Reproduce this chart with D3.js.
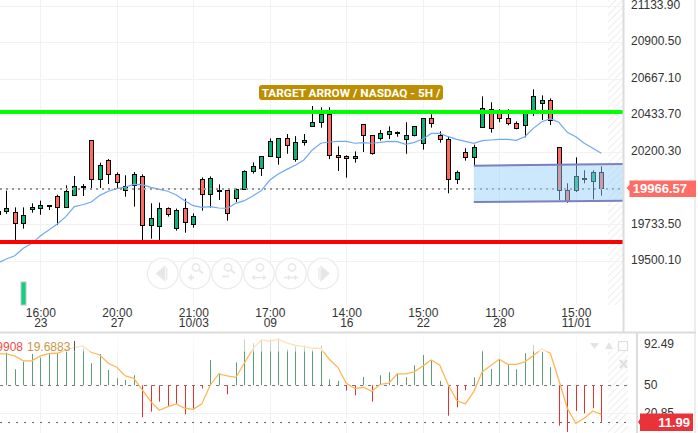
<!DOCTYPE html>
<meta charset="utf-8">
<title>NASDAQ 5H</title>
<style>
body { margin: 0; background: white; overflow: hidden; }
svg { display: block; font-family: 'Liberation Sans', Arial, sans-serif; }
.axis { font-family: 'Liberation Sans', Arial, sans-serif; }
.axis text { font-size: 12px; fill: #333; }
.axis path, .axis line { display: none; }
</style>
<svg width="698" height="433"></svg>
<script src="https://d3js.org/d3.v7.min.js"></script>
<script>
var opens = [19820,19816,19811,19741,19835,19837,19856,19914,19843,19920,19969,20272,20022,20144,20054,19958,19984,20041,19728,19722,19837,19709,19837,19735,20022,19926,19950,19954,19899,19958,20071,20093,20169,20163,20284,20148,20259,20361,20387,20438,20176,20169,20157,20374,20304,20284,20310,20321,20278,20304,20253,20412,20304,20278,20022,20195,20163,20355,20470,20444,20412,20380,20368,20457,20508,20528,20227,19952,19952,20024,20009,20067];
var highs = [19830,19950,19843,19843,19869,19886,19856,19924,19984,20044,19992,20272,20129,20152,20067,20048,20069,20054,19869,19873,19843,19835,19899,19805,20035,20041,19990,19954,19963,20080,20131,20169,20284,20284,20312,20299,20312,20491,20483,20483,20233,20176,20201,20374,20304,20338,20361,20329,20387,20361,20412,20438,20329,20295,20078,20221,20244,20553,20515,20470,20470,20393,20449,20598,20559,20540,20227,19997,20163,20080,20080,20105];
var lows = [19784,19801,19634,19707,19809,19796,19826,19730,19843,19920,19916,19958,19967,19992,19963,19911,19848,19634,19643,19634,19784,19694,19681,19713,19822,19841,19890,19758,19877,19958,20059,20044,20167,20116,20186,20135,20238,20359,20353,20152,20076,20033,20129,20197,20180,20270,20280,20295,20186,20297,20212,20353,20257,19933,19992,20142,20108,20355,20321,20387,20368,20342,20291,20427,20402,20370,19890,19873,19941,19997,19894,19918];
var closes = [19798,19837,19741,19792,19845,19856,19848,19843,19946,19978,19978,20022,20112,20054,20003,19982,20054,19728,19773,19837,19798,19824,19747,19786,19926,20029,19956,19805,19958,20073,20105,20169,20265,20284,20240,20259,20272,20387,20438,20176,20163,20157,20169,20304,20189,20316,20329,20325,20304,20361,20412,20380,20278,20022,20067,20163,20227,20476,20348,20412,20380,20348,20444,20553,20528,20400,19952,19882,20041,20031,20067,19966.57];
var movingAvg = [19487,19513,19534,19581,19613,19660,19698,19737,19784,19848,19860,19877,19920,19946,19963,19973,19990,19988,19971,19958,19946,19922,19886,19854,19843,19848,19839,19837,19869,19886,19916,19950,20018,20056,20086,20112,20146,20210,20253,20261,20265,20265,20253,20257,20253,20259,20265,20263,20246,20259,20280,20316,20316,20295,20278,20265,20253,20270,20274,20278,20278,20272,20295,20348,20391,20410,20387,20323,20295,20253,20221,20189];
var oscBars = [82.6,84.0,66.6,74.6,82.6,78.8,82.6,82.6,85.0,96.1,88.5,72.9,82.6,65.9,57.3,55.5,60.4,16.7,22.6,33.0,28.5,30.6,19.8,25.0,46.5,76.3,62.5,40.6,73.9,97.8,93.7,97.1,97.8,98.9,87.4,90.2,91.3,86.8,91.3,56.2,54.5,44.5,39.6,58.7,33.0,60.4,63.5,62.5,58.3,70.8,81.5,75.7,54.5,18.4,27.1,44.8,58.3,86.1,67.0,77.0,71.5,66.6,83.3,92.0,85.0,68.7,8.0,1.5,23.3,20.9,26.1,11.99];
var oscLine = [82.6,82.6,80.5,75.3,75.3,80.5,82.9,83.3,86.8,89.5,90.9,84.3,81.5,72.9,68.7,59.7,57.3,45.1,33.0,24.0,27.8,30.6,26.1,25.0,30.6,50.3,61.8,59.7,58.3,72.9,87.8,97.1,95.8,97.8,93.7,91.6,90.2,88.5,88.5,77.0,68.7,52.1,46.5,47.9,43.8,51.0,52.1,61.8,61.8,63.9,70.1,76.3,70.8,50.3,34.1,30.6,43.4,64.2,70.5,77.0,71.8,71.8,74.3,80.9,87.8,83.3,55.5,26.1,10.5,15.7,23.3,19.8];
var priceTicks = [21133.90,20900.50,20667.10,20433.70,20200.30,19733.50,19500.10];
var priceGrid = [21133.90,20900.50,20667.10,20433.70,20200.30,19966.57,19733.50,19500.10];
var oscTicks = [92.49,50,20.85];
var timeIdx = [5,14,23,32,41,50,59,68];
var timeTop = ['16:00','20:00','21:00','17:00','14:00','15:00','11:00','15:00'];
var timeBottom = ['23','27','10/03','09','16','22','28','11/01'];
var supportLevel = 19621.5, resistLevel = 20452.9;
var channelIdx = [56, 74.1];
var channelTop = [20109.5, 20120.4];
var channelBottom = [19877.3, 19885.7];
var volIdx = [3], volValues = [23];
var bannerText = 'TARGET ARROW / NASDAQ - 5H /';

var svg = d3.select('svg');
var xs = d3.scaleLinear().domain([5, 68]).range([40.3, 575.8]);
var y = d3.scaleLinear().domain([19500.1, 21133.9]).range([261, 5.5]);
var yOsc = d3.scaleLinear().domain([20.85, 92.49]).range([413.3, 344.4]);
var yVol = d3.scaleLinear().domain([0, 23]).range([305, 282]);
var px = function(v) { return Math.round(v) + 0.5; };

var defs = svg.append('defs');
var pat = defs.append('pattern').attr('id', 'hatch').attr('width', 5).attr('height', 5)
  .attr('patternUnits', 'userSpaceOnUse').attr('patternTransform', 'rotate(45)');
pat.append('line').attr('x1', 0).attr('x2', 0).attr('y1', 0).attr('y2', 5)
  .attr('stroke', '#eeeeee').attr('stroke-width', 2);
defs.append('clipPath').attr('id', 'mainClip').append('rect').attr('width', 623).attr('height', 331);
defs.append('clipPath').attr('id', 'oscClip').append('rect').attr('y', 334).attr('width', 628).attr('height', 99);

// hatched zones
svg.append('rect').attr('x', 608).attr('y', 0).attr('width', 15).attr('height', 305).attr('fill', 'url(#hatch)');
svg.append('rect').attr('x', 608).attr('y', 334).attr('width', 20).attr('height', 99).attr('fill', 'url(#hatch)');

// grids
var grid = svg.append('g').attr('stroke', '#f2f2f2').attr('stroke-width', 1);
grid.selectAll('.h').data(priceGrid).enter().append('line')
  .attr('x1', 0).attr('x2', 623).attr('y1', function(d) { return px(y(d)); }).attr('y2', function(d) { return px(y(d)); });
grid.selectAll('.v').data(timeIdx).enter().append('line')
  .attr('x1', function(d) { return px(xs(d)); }).attr('x2', function(d) { return px(xs(d)); }).attr('y1', 0).attr('y2', 305);
grid.selectAll('.v2').data(timeIdx).enter().append('line')
  .attr('x1', function(d) { return px(xs(d)); }).attr('x2', function(d) { return px(xs(d)); }).attr('y1', 334).attr('y2', 433);
grid.append('line').attr('x1', 0).attr('x2', 636).attr('y1', px(yOsc(20.85))).attr('y2', px(yOsc(20.85)));

// nav buttons
var navX = [162.7, 195, 227, 259, 291, 323], navY = 273.5;
var nav = svg.append('g').attr('fill', 'none').attr('stroke', '#ececec').attr('stroke-width', 1.3);
navX.forEach(function(cx, i) {
  nav.append('circle').attr('cx', cx).attr('cy', navY).attr('r', 15.3).attr('fill', 'rgba(255,255,255,0.6)');
  var g = nav.append('g').attr('transform', 'translate(' + cx + ',' + navY + ')').attr('stroke', '#e8e8e8');
  if (i == 0) g.append('path').attr('d', 'M2,-7V7L-6,0ZM4,-6V6').attr('fill', '#e6e6e6');
  if (i == 5) g.append('path').attr('d', 'M-2,-7V7L6,0ZM-4,-6V6').attr('fill', '#e6e6e6');
  if (i > 0 && i < 5) {
    g.append('circle').attr('cx', 1).attr('cy', -6).attr('r', 3.6).attr('stroke-width', 1.6);
    if (i < 3) g.append('path').attr('d', 'M4,-3.5L8,0').attr('stroke-width', 2);
    if (i == 1) g.append('path').attr('d', 'M-7,4H-1M-4,1V7').attr('stroke-width', 1.8);
    if (i == 2) g.append('path').attr('d', 'M-5,3H2').attr('stroke-width', 1.8);
    if (i == 3) g.append('path').attr('d', 'M-7,4H7M-7,4L-4,2M-7,4L-4,6M7,4L4,2M7,4L4,6').attr('stroke-width', 1.3);
    if (i == 4) g.append('path').attr('d', 'M-7,4H7M-1,4L-3,2M-1,4L-3,6M3,4L5,2M3,4L5,6').attr('stroke-width', 1.3);
  }
});

// volume
svg.append('g').selectAll('rect').data(volIdx).enter().append('rect')
  .attr('x', function(d) { return Math.round(xs(d)) - 2; })
  .attr('y', function(d, i) { return yVol(volValues[i]); })
  .attr('width', 5)
  .attr('height', function(d, i) { return yVol(0) - yVol(volValues[i]); })
  .attr('fill', '#0fcf83').attr('stroke', '#c4c4c4');

// candles
var main = svg.append('g').attr('clip-path', 'url(#mainClip)');
var candle = main.selectAll('.candle').data(d3.range(opens.length)).enter().append('g');
candle.append('line')
  .attr('x1', function(i) { return px(xs(i)); }).attr('x2', function(i) { return px(xs(i)); })
  .attr('y1', function(i) { return y(highs[i]); }).attr('y2', function(i) { return y(lows[i]); })
  .attr('stroke', 'black');
candle.append('rect')
  .attr('x', function(i) { return px(xs(i)) - 2; })
  .attr('width', 4)
  .attr('y', function(i) { return px(y(Math.max(opens[i], closes[i]))); })
  .attr('height', function(i) { return Math.max(1, Math.round(Math.abs(y(opens[i]) - y(closes[i])))); })
  .attr('fill', function(i) { return closes[i] >= opens[i] ? '#0ab477' : '#ff6b60'; })
  .attr('stroke', 'black');

// moving average
main.append('path').datum(movingAvg)
  .attr('d', d3.line().x(function(d, i) { return xs(i); }).y(function(d) { return y(d); }))
  .attr('fill', 'none').attr('stroke', '#6fa9f4').attr('stroke-width', 1.2);

// last price dotted line
main.append('line').attr('x1', 0).attr('x2', 623).attr('y1', 189).attr('y2', 189)
  .attr('stroke', '#999').attr('stroke-width', 2).attr('stroke-dasharray', '2,4');

// channel
main.append('path')
  .attr('d', 'M' + xs(channelIdx[0]) + ',' + y(channelTop[0]) + 'L' + xs(channelIdx[1]) + ',' + y(channelTop[1]) +
    'L' + xs(channelIdx[1]) + ',' + y(channelBottom[1]) + 'L' + xs(channelIdx[0]) + ',' + y(channelBottom[0]) + 'Z')
  .attr('fill', 'rgba(147,207,250,0.48)');
[channelTop, channelBottom].forEach(function(c) {
  main.append('line').attr('x1', xs(channelIdx[0])).attr('x2', xs(channelIdx[1]))
    .attr('y1', y(c[0])).attr('y2', y(c[1])).attr('stroke', '#7c80bd').attr('stroke-width', 2);
});

// levels
main.append('line').attr('x1', 0).attr('x2', 623).attr('y1', y(resistLevel)).attr('y2', y(resistLevel))
  .attr('stroke', '#00ff00').attr('stroke-width', 4);
main.append('line').attr('x1', 0).attr('x2', 623).attr('y1', y(supportLevel)).attr('y2', y(supportLevel))
  .attr('stroke', '#ff0000').attr('stroke-width', 4);

// banner
svg.append('rect').attr('x', 259).attr('y', 85).attr('width', 184).attr('height', 15).attr('rx', 3).attr('fill', '#bd8e00');
svg.append('text').attr('x', 351).attr('y', 96.5).attr('text-anchor', 'middle')
  .style('font-family', 'Roboto').style('font-weight', 700).style('font-size', '11.8px').attr('fill', 'white').text(bannerText);

// panel borders
var borders = svg.append('g').attr('stroke', '#dcdcdc').attr('stroke-width', 2);
borders.append('line').attr('x1', 623.5).attr('x2', 623.5).attr('y1', 0).attr('y2', 332);
borders.append('line').attr('x1', 0).attr('x2', 696).attr('y1', 332.5).attr('y2', 332.5);
borders.append('line').attr('x1', 637).attr('x2', 637).attr('y1', 333).attr('y2', 433);
borders.append('line').attr('x1', 695).attr('x2', 695).attr('y1', 0).attr('y2', 433).attr('stroke-width', 1);

// axes
var priceAxis = d3.axisRight(y).tickValues(priceTicks).tickSize(0).tickPadding(0).tickFormat(d3.format('.2f'));
svg.append('g').attr('class', 'axis').attr('transform', 'translate(631,-1)').call(priceAxis);
var oscAxis = d3.axisRight(yOsc).tickValues(oscTicks).tickSize(0).tickPadding(0).tickFormat(function(d) { return d; });
svg.append('g').attr('class', 'axis').attr('transform', 'translate(644,-1)').call(oscAxis);
var timeAxis = d3.axisBottom(xs).tickValues(timeIdx).tickSize(0).tickPadding(0).tickFormat(function(d, i) { return timeTop[i]; });
var tg = svg.append('g').attr('class', 'axis').attr('transform', 'translate(0,308)').call(timeAxis);
tg.selectAll('text').each(function(d, i) {
  d3.select(this).append('tspan').attr('x', 0).attr('dy', 10).text(timeBottom[i]);
});

// oscillator
var osc = svg.append('g').attr('clip-path', 'url(#oscClip)');
osc.append('line').attr('x1', 0).attr('x2', 627).attr('y1', px(yOsc(50))).attr('y2', px(yOsc(50)))
  .attr('stroke', '#777').attr('stroke-dasharray', '3,5');
osc.append('line').attr('x1', 0).attr('x2', 627).attr('y1', px(yOsc(11.99))).attr('y2', px(yOsc(11.99)))
  .attr('stroke', '#666').attr('stroke-dasharray', '2,6');
osc.selectAll('.b').data(oscBars).enter().append('line')
  .attr('x1', function(d, i) { return px(xs(i)); }).attr('x2', function(d, i) { return px(xs(i)); })
  .attr('y1', yOsc(50)).attr('y2', function(d) { return yOsc(d); })
  .attr('stroke', function(d) { return d >= 50 ? '#5c9f76' : '#e62f2f'; });
osc.append('path').datum(oscLine)
  .attr('d', d3.line().x(function(d, i) { return xs(i); }).y(function(d) { return yOsc(d); }))
  .attr('fill', 'none').attr('stroke', '#ffb655').attr('stroke-width', 1.3);
osc.append('rect').attr('x', 0).attr('y', 334).attr('width', 628).attr('height', 17.5).attr('fill', 'rgba(255,255,255,0.6)');

// oscillator legend
svg.append('text').attr('x', 23).attr('y', 351).attr('text-anchor', 'end').style('font-size', '12px').attr('fill', '#ee4a4a').text('9908');
svg.append('text').attr('x', 27).attr('y', 351).style('font-size', '12px').attr('fill', '#c99648').text('19.6883');
svg.append('line').attr('x1', 74.5).attr('x2', 74.5).attr('y1', 341).attr('y2', 351).attr('stroke', '#555');

// oscillator icons
var icons = svg.append('g').attr('fill', '#e4e4e4').attr('stroke', 'none');
icons.append('path').attr('d', 'M590,343H599L594.5,349Z');
icons.append('path').attr('d', 'M605,349L609,342L613,349Z');
icons.append('rect').attr('x', 618.5).attr('y', 341.5).attr('width', 9).attr('height', 9).attr('fill', 'none').attr('stroke', '#dedede').attr('stroke-width', 1.2);
svg.append('path').attr('d', 'M620,360L627,368M627,360L620,368').attr('stroke', '#e0e0e0').attr('stroke-width', 2.4);

// value tags
svg.append('path').attr('d', 'M626.5,188L629.5,185V180.5H696V197H629.5V191Z').attr('fill', '#ff6b65');
svg.append('text').attr('x', 687).attr('y', 192.5).attr('text-anchor', 'end').style('font-size', '13px').style('font-weight', 700)
  .attr('fill', 'white').text(d3.format('.2f')(closes[closes.length - 1]));
svg.append('path').attr('d', 'M638,422L640,419V413.5H693V431H640V425Z').attr('fill', '#ea3338');
svg.append('text').attr('x', 690).attr('y', 427).attr('text-anchor', 'end').style('font-size', '13px').style('font-weight', 700)
  .attr('fill', 'white').text(d3.format('.2f')(oscBars[oscBars.length - 1]));
</script>
